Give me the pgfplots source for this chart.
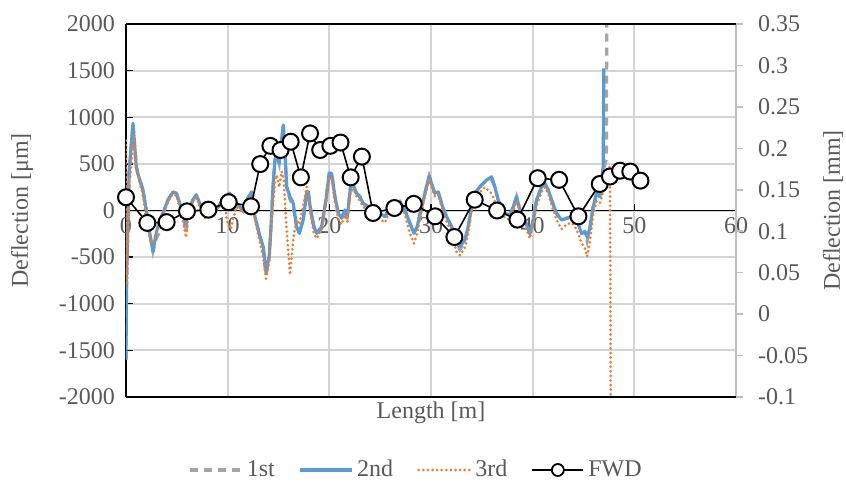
\documentclass[border=0pt]{standalone}
\usepackage{fontspec}
\setmainfont{Liberation Serif}
\usepackage{pgfplots}
\pgfplotsset{compat=1.18}
\definecolor{txt}{HTML}{595959}
\definecolor{grd}{HTML}{D4D4D4}
\definecolor{c1}{HTML}{A5A5A5}
\definecolor{c2}{HTML}{5B9BD5}
\definecolor{c3}{HTML}{ED7D31}
\definecolor{rax}{HTML}{BFBFBF}
\begin{document}
\begin{tikzpicture}[font=\fontsize{12}{14}\selectfont]
\useasboundingbox (-63pt,-45.5pt) rectangle (360pt,198.5pt);
% background grid
\begin{axis}[
  at={(0,0)}, anchor=south west,
  scale only axis, width=305pt, height=186.5pt,
  xmin=0, xmax=60, ymin=-2000, ymax=2000,
  xtick={0,10,...,60}, ytick={-2000,-1500,...,2000},
  axis line style={draw=none},
  grid=major, grid style={grd, line width=1pt},
  major tick length=0pt, tick style={draw=none},
  xticklabels={}, yticklabels={},
]
\end{axis}
\begin{axis}[
  at={(0,0)}, anchor=south west,
  scale only axis, width=305pt, height=186.5pt,
  xmin=0, xmax=60, ymin=-2000, ymax=2000,
  xtick={0,10,...,60}, ytick={-2000,-1500,...,2000},
  axis x line*=middle, axis y line*=left,
  hide obscured x ticks=false, hide obscured y ticks=false,
  axis line style={black, line width=0.7pt},
  tick align=inside, major tick length=3.5pt,
  tick style={black, line width=0.7pt},
  tick label style={text=txt, font=\fontsize{12}{14}\selectfont},
  /pgf/number format/assume math mode=true,
  /pgf/number format/1000 sep={},
  yticklabel style={xshift=-2pt},
  legend columns=4,
  legend style={at={(0.5,0)}, anchor=center, yshift=-36.5pt, xshift=-7pt,
    draw=none, fill=none, font=\fontsize{12}{14}\selectfont, text=txt,
    /tikz/every even column/.append style={column sep=10pt}},
  legend image code/.code={\draw[mark repeat=2,mark phase=2] plot coordinates {(0cm,0cm) (0.45cm,0cm) (0.9cm,0cm)};},
]
% 1st
\addplot[c1, line width=1.6pt, dash pattern=on 4pt off 3pt] coordinates {
(0,-1600)(0.05,-750)(0.3,400)(0.69,935)(1.01,470)(1.2,380)(1.35,330)(1.67,220)(2.0,0)(2.33,-240)(2.65,-440)(2.98,-300)(3.31,-230)(3.64,-40)(4.13,113)(4.62,200)(4.95,185)(5.28,80)(5.6,-48)(5.9,-240)(6.1,0)(6.59,113)(6.91,170)(7.37,40)(7.74,-48)(8.36,-27)(9.05,40)(9.71,148)(10.2,185)(10.85,80)(11.5,0)(11.87,113)(12.36,200)(12.68,-66)(13.18,-280)(13.5,-400)(13.77,-700)(14.09,-495)(14.33,-30)(14.48,290)(14.65,540)(14.82,613)(15.07,506)(15.31,756)(15.47,900)(15.63,650)(15.8,255)(16.13,120)(16.45,40)(16.78,-174)(17.04,-245)(17.43,-102)(17.77,185)(17.93,200)(18.16,5)(18.49,-174)(18.75,-245)(19.24,-200)(19.67,113)(19.99,400)(20.23,400)(20.55,148)(20.88,-30)(21.21,-84)(21.53,5)(21.76,-66)(22.09,255)(22.35,273)(22.68,185)(23.01,148)(23.33,77)(23.82,40)(24.32,5)(24.98,-30)(25.47,-66)(25.96,40)(26.45,40)(26.94,95)(27.43,5)(27.93,-137)(28.32,-245)(28.64,-174)(29.08,40)(29.4,185)(29.82,370)(30.16,255)(30.38,185)(30.71,200)(31.14,40)(31.53,-66)(32.03,-174)(32.52,-352)(32.84,-420)(33.33,-330)(33.66,-174)(33.99,40)(34.32,185)(34.81,255)(35.3,309)(35.47,300)(35.96,330)(36.28,255)(36.61,113)(36.94,40)(37.27,-30)(37.76,-48)(38.09,40)(38.42,148)(38.74,5)(39.23,-102)(39.72,-245)(40.05,-102)(40.38,113)(40.88,255)(41.2,290)(41.53,220)(41.86,113)(42.35,-30)(42.84,-102)(43.33,-84)(43.82,-66)(44.32,-102)(44.81,-245)(45.13,-227)(45.36,-330)(45.62,-191)(45.95,40)(46.28,185)(46.61,148)(47.0,450)(47.25,550)(47.3,2400)
};
\addlegendentry{1st}
% 2nd
\addplot[c2, line width=1.6pt, line join=round] coordinates {
(0,-1600)(0.05,-750)(0.3,400)(0.69,935)(1.01,470)(1.2,380)(1.35,330)(1.67,220)(2.0,0)(2.33,-240)(2.65,-440)(2.98,-240)(3.31,-100)(3.64,-27)(4.13,113)(4.62,200)(4.95,185)(5.28,80)(5.6,-48)(5.9,-150)(6.1,0)(6.59,113)(6.91,170)(7.37,40)(7.74,-48)(8.36,-27)(9.05,40)(9.71,148)(10.2,185)(10.85,80)(11.5,0)(11.87,113)(12.36,200)(12.68,-66)(13.18,-280)(13.5,-390)(13.77,-660)(14.09,-495)(14.33,-30)(14.48,290)(14.65,540)(14.82,613)(15.07,506)(15.31,756)(15.47,917)(15.63,650)(15.8,255)(16.13,148)(16.45,77)(16.78,-174)(17.04,-245)(17.43,-102)(17.77,185)(17.93,200)(18.16,5)(18.49,-174)(18.75,-245)(19.24,-174)(19.67,113)(19.99,400)(20.23,400)(20.55,148)(20.88,-30)(21.21,-84)(21.53,5)(21.76,-66)(22.09,255)(22.35,273)(22.68,185)(23.01,148)(23.33,77)(23.82,40)(24.32,5)(24.98,-30)(25.47,-66)(25.96,40)(26.45,40)(26.94,95)(27.43,5)(27.93,-137)(28.32,-245)(28.64,-174)(29.08,40)(29.4,185)(29.82,370)(30.16,255)(30.38,185)(30.71,200)(31.14,40)(31.53,-66)(32.03,-174)(32.52,-352)(32.84,-388)(33.33,-316)(33.66,-174)(33.99,40)(34.32,185)(34.81,255)(35.3,309)(35.47,327)(35.96,362)(36.28,255)(36.61,113)(36.94,40)(37.27,-30)(37.76,-48)(38.09,40)(38.42,148)(38.74,5)(39.23,-102)(39.72,-245)(40.05,-102)(40.38,113)(40.88,255)(41.2,290)(41.53,220)(41.86,113)(42.35,-30)(42.84,-102)(43.33,-84)(43.82,-66)(44.32,-102)(44.81,-245)(45.13,-227)(45.36,-281)(45.62,-191)(45.95,40)(46.28,185)(46.61,148)(46.93,470)(47.0,1525)
};
\addlegendentry{2nd}
% 3rd
\addplot[c3, line width=1.5pt, line cap=round, dash pattern=on 0pt off 2.3pt] coordinates {
(0,750)(0.1,-800)(0.35,300)(0.75,800)(1.0,500)(1.35,300)(1.67,150)(2.0,-100)(2.33,-300)(2.65,-350)(2.98,-250)(3.31,-150)(3.64,-50)(4.13,100)(4.62,180)(4.95,160)(5.28,40)(5.6,-100)(5.9,-290)(6.1,-80)(6.59,100)(6.91,150)(7.37,20)(7.74,-80)(8.36,-50)(9.05,20)(9.71,120)(9.9,-100)(10.3,-200)(10.85,40)(11.5,-30)(11.87,80)(12.36,150)(12.68,-100)(13.18,-350)(13.5,-500)(13.77,-730)(14.09,-550)(14.33,-100)(14.65,300)(14.82,380)(15.07,250)(15.31,420)(15.5,350)(15.8,-200)(16.13,-690)(16.45,-300)(16.78,-100)(17.04,-150)(17.43,50)(17.77,255)(18.16,-50)(18.49,-250)(18.75,-300)(19.24,-200)(19.67,100)(19.99,360)(20.23,340)(20.55,100)(20.88,-100)(21.21,-150)(21.53,-50)(21.76,-120)(22.09,200)(22.35,230)(22.68,150)(23.01,100)(23.33,40)(23.82,0)(24.32,-50)(24.98,-90)(25.47,-130)(25.96,0)(26.45,10)(26.94,60)(27.43,-40)(27.93,-250)(28.32,-352)(28.64,-250)(29.08,0)(29.4,150)(29.82,330)(30.16,220)(30.38,150)(30.71,170)(31.14,0)(31.53,-120)(32.03,-250)(32.52,-450)(32.84,-480)(33.33,-400)(33.66,-250)(33.99,0)(34.32,120)(34.81,200)(35.3,250)(35.96,180)(36.28,100)(36.61,50)(36.94,-20)(37.27,-80)(37.76,-100)(38.09,0)(38.42,100)(38.74,-20)(39.23,-150)(39.72,-300)(40.05,-150)(40.38,50)(40.88,200)(41.2,250)(41.53,180)(41.86,60)(42.35,-100)(42.84,-200)(43.33,-150)(43.82,-130)(44.32,-200)(44.81,-350)(45.13,-400)(45.36,-495)(45.62,-350)(45.95,-50)(46.28,100)(46.61,80)(47.2,300)(47.6,480)(47.7,-2500)
};
\addlegendentry{3rd}
\addlegendimage{black, line width=0.8pt, mark=*, mark size=3pt, mark options={fill=white, draw=black, line width=0.9pt}}
\addlegendentry{FWD}
\end{axis}
\begin{axis}[
  at={(0,0)}, anchor=south west,
  scale only axis, width=305pt, height=186.5pt,
  xmin=0, xmax=60, ymin=-0.1, ymax=0.35,
  axis x line=none, axis y line*=right,
  y axis line style={rax, line width=0.8pt},
  ytick={-0.1,-0.05,0,0.05,0.1,0.15,0.2,0.25,0.3,0.35},
  yticklabels={-0.1,-0.05,0,0.05,0.1,0.15,0.2,0.25,0.3,0.35},
  tick align=outside, major tick length=3.5pt,
  ytick style={rax, line width=0.8pt},
  tick label style={text=txt, font=\fontsize{12}{14}\selectfont},
  yticklabel style={xshift=4pt},
]
\addplot[black, line width=0.8pt, mark=*, mark size=4pt, mark options={fill=white, draw=black, line width=1pt}] coordinates {
(0,0.141)(2.1,0.110)(4.0,0.111)(6.0,0.124)(8.1,0.126)(10.1,0.135)(12.3,0.130)(13.2,0.181)(14.2,0.203)(15.2,0.198)(16.2,0.208)(17.2,0.165)(18.1,0.218)(19.1,0.198)(20.1,0.203)(21.1,0.207)(22.1,0.165)(23.2,0.190)(24.3,0.122)(26.4,0.128)(28.3,0.133)(30.4,0.118)(32.3,0.093)(34.3,0.138)(36.5,0.125)(38.5,0.114)(40.5,0.164)(42.6,0.162)(44.5,0.118)(46.6,0.157)(47.6,0.166)(48.6,0.173)(49.6,0.172)(50.6,0.161)
};
\end{axis}
\draw[black, line width=0.7pt] (0,0) -- (305pt,0);
\draw[black, line width=0.7pt] (0,186.5pt) -- (305pt,186.5pt);
\node[rotate=90, text=txt] at (-52pt,93.25pt) {Deflection [μm]};
\node[rotate=90, text=txt] at (353.5pt,93.25pt) {Deflection [mm]};
\node[text=txt] at (152.5pt,-8pt) {Length [m]};
\end{tikzpicture}
\end{document}
